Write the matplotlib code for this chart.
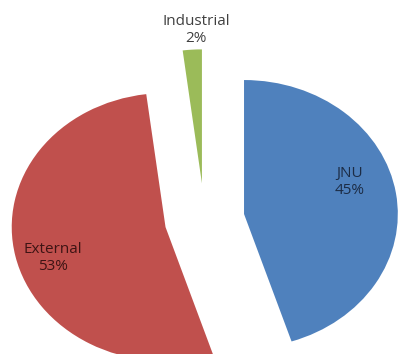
import matplotlib
matplotlib.use("Agg")
import matplotlib.pyplot as plt

# sources of funding
labels = ['JNU', 'External', 'Industrial']
shares = [45, 53, 2]
colors = ['#4F81BD', '#C0504D', '#9BBB59']
text_colors = ['#1c2c45', '#3d1414', '#404040']

# label spots in data units (pie radius = 1)
label_pos = [(0.944, 0.28), (-0.984, -0.287), (-0.056, 1.414)]

fig = plt.figure(figsize=(3.98, 3.54), dpi=100)
ax = fig.add_axes([0, 0, 1, 1])

wedges, _ = ax.pie(shares, colors=colors, startangle=90, counterclock=False,
                   explode=[0.26, 0.26, 0.27], radius=1,
                   wedgeprops=dict(linewidth=0))
ax.set_aspect('auto')
ax.set_xlim(-1.33, 1.258)
ax.set_ylim(-1.004, 1.638)
ax.axis('off')

for lab, val, (x, y), tc in zip(labels, shares, label_pos, text_colors):
    ax.text(x, y, '{}\n{}%'.format(lab, val), ha='center', va='center',
            fontsize=11, color=tc, family='Open Sans', linespacing=1.2)

fig.savefig('out.png', dpi=100)
